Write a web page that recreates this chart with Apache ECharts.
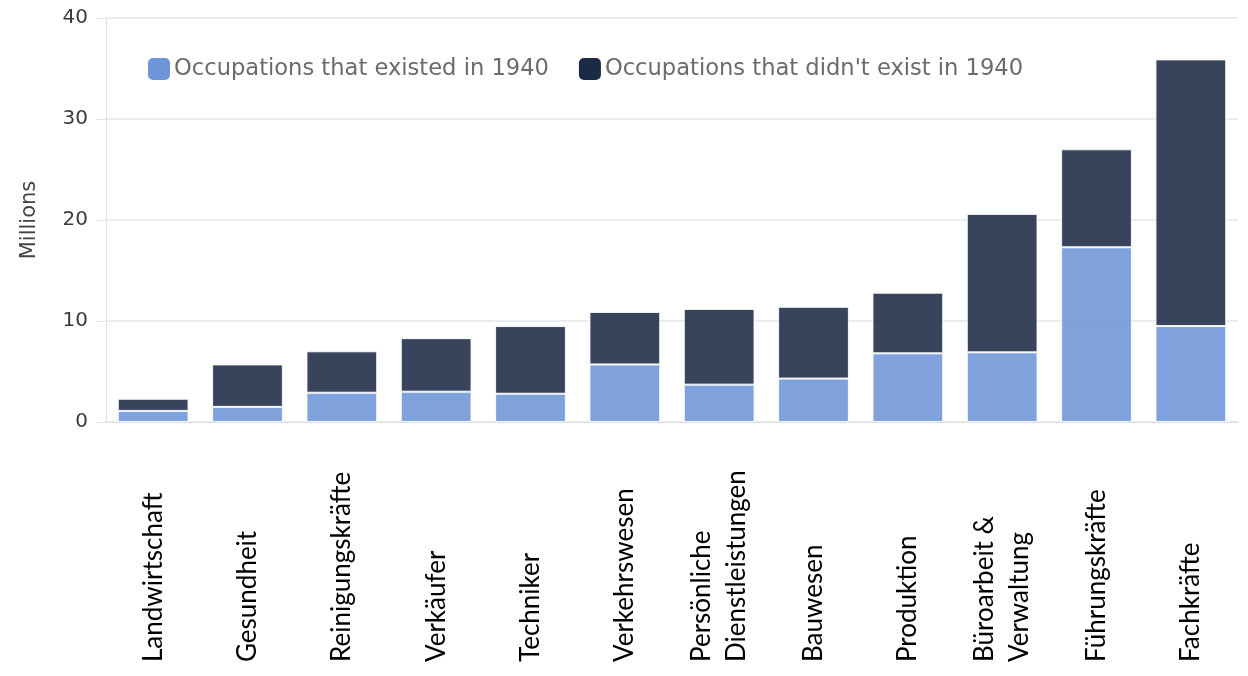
<!DOCTYPE html>
<html>
<head>
<meta charset="utf-8">
<script src="https://cdn.jsdelivr.net/npm/echarts@6/dist/echarts.min.js"></script>
<style>
  html, body { margin: 0; padding: 0; background: #ffffff; }
  #chart { width: 1248px; height: 676px; }
</style>
</head>
<body>
<div id="chart"></div>
<script>
// Occupation groups, ordered by total employment
const categories = [
  'Landwirtschaft', 'Gesundheit', 'Reinigungskräfte', 'Verkäufer', 'Techniker',
  'Verkehrswesen', 'Persönliche\nDienstleistungen', 'Bauwesen', 'Produktion',
  'Büroarbeit &\nVerwaltung', 'Führungskräfte', 'Fachkräfte'
];
// Millions of workers in occupations that already existed in 1940
const existed1940 = [1.1, 1.5, 2.9, 3.0, 2.8, 5.7, 3.7, 4.3, 6.8, 6.9, 17.3, 9.5];
// Millions of workers in occupations that did not exist in 1940
const newSince1940 = [1.2, 4.2, 4.1, 5.3, 6.7, 5.2, 7.5, 7.1, 6.0, 13.7, 9.7, 26.4];
const yTicks = [0, 10, 20, 30, 40];

const seriesNames = ['Occupations that existed in 1940', "Occupations that didn't exist in 1940"];
const colors = ['#6d95d8', '#1b2a45'];
const uiFont = 'DejaVu Sans';

const chart = echarts.init(document.getElementById('chart'), null, { renderer: 'canvas' });

chart.setOption({
  animation: false,
  backgroundColor: '#ffffff',
  grid: { left: 106, right: 10, top: 18, bottom: 254, containLabel: false },
  legend: {
    left: 146,
    top: 56,
    padding: 0,
    icon: 'roundRect',
    itemWidth: 24,
    itemHeight: 24,
    itemGap: 28,
    textStyle: { fontFamily: uiFont, fontSize: 22.6, color: '#6b6b6b', padding: [0, 0, 0, -2] },
    data: seriesNames.map((n, i) => ({ name: n, itemStyle: { color: colors[i], opacity: 1 } }))
  },
  xAxis: {
    type: 'category',
    data: categories,
    axisLine: { lineStyle: { color: '#dcdcdc', width: 1 } },
    axisTick: { alignWithLabel: true, length: 8, lineStyle: { color: '#dcdcdc' } },
    axisLabel: {
      interval: 0,
      rotate: 90,
      align: 'left',
      verticalAlign: 'middle',
      margin: 240,
      fontFamily: 'Lato',
      fontSize: 26,
      lineHeight: 35,
      color: '#000000'
    }
  },
  yAxis: {
    type: 'value',
    min: 0,
    max: 40,
    interval: 10,
    name: 'Millions',
    nameLocation: 'middle',
    nameGap: 66,
    nameTextStyle: { fontFamily: uiFont, fontSize: 21, color: '#444444' },
    axisLine: { show: true, lineStyle: { color: '#e2e2e2' } },
    axisTick: { show: true, length: 10, lineStyle: { color: '#e2e2e2' } },
    axisLabel: {
      margin: 18,
      fontFamily: uiFont,
      fontSize: 20,
      color: '#3a3a3a',
      formatter: v => (yTicks.includes(v) ? String(v) : '')
    },
    splitLine: { lineStyle: { color: '#e6e6e6', width: 1.5 } }
  },
  series: [
    {
      name: seriesNames[0],
      type: 'bar',
      stack: 'total',
      barWidth: '75%',
      data: existed1940,
      itemStyle: { color: colors[0], opacity: 0.88, borderColor: '#ffffff', borderWidth: 1 }
    },
    {
      name: seriesNames[1],
      type: 'bar',
      stack: 'total',
      barWidth: '75%',
      data: newSince1940,
      itemStyle: { color: colors[1], opacity: 0.88, borderColor: '#ffffff', borderWidth: 1 }
    }
  ]
});
</script>
</body>
</html>
